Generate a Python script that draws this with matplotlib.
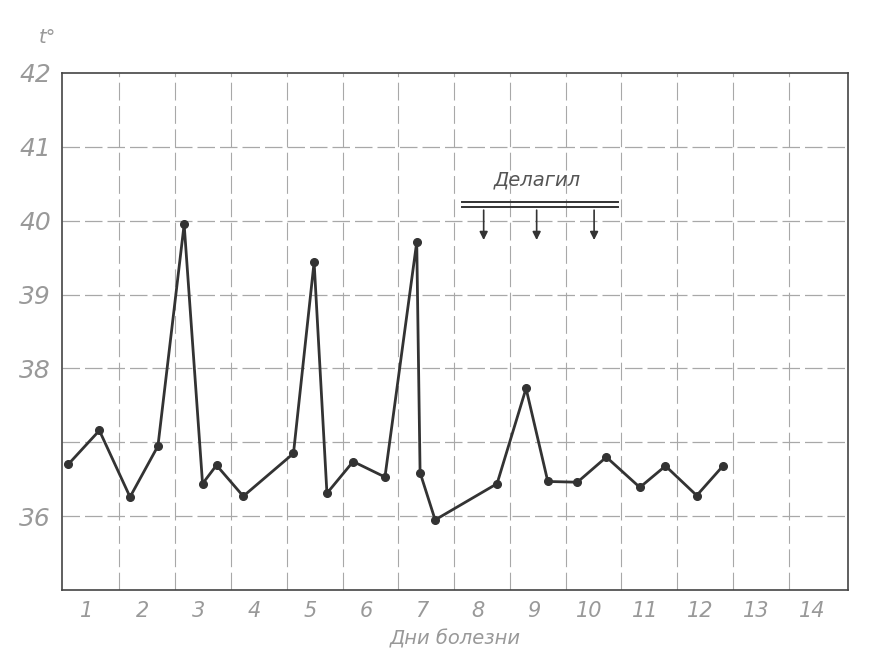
import numpy as np
import matplotlib.pyplot as plt

# measurement times (days of illness) and body temperature
days = [0.66, 1.22, 1.77, 2.27, 2.74, 3.07, 3.32, 3.80, 4.70, 5.07, 5.30, 5.77,
        6.34, 6.91, 6.97, 7.24, 8.35, 8.87, 9.26, 9.79, 10.31, 10.91, 11.37, 11.93, 12.40]
temps = [36.70, 37.16, 36.26, 36.95, 39.95, 36.44, 36.69, 36.27, 36.85, 39.44, 36.31, 36.74,
         36.53, 39.71, 36.59, 35.95, 36.44, 37.73, 36.47, 36.46, 36.80, 36.39, 36.68, 36.28, 36.68]

day_ticks = list(range(1, 15))
temp_ticks = [36, 37, 38, 39, 40, 41, 42]
temp_labels = ['36', '', '38', '39', '40', '41', '42']

# delagil doses
drug_start, drug_end = 7.72, 10.52
drug_doses = [8.11, 9.06, 10.09]

line_c = '#333333'
grid_c = '#a8a8a8'
text_c = '#999999'

fig = plt.figure(figsize=(8.87, 6.63), dpi=100)
ax = fig.add_axes([0.0699, 0.110, 0.886, 0.780])

ax.set_xlim(0.55, 14.64)
ax.set_ylim(35.0, 42.0)

# grid
for t in temp_ticks[:-1]:
    ax.axhline(t, color=grid_c, lw=0.9, ls=(0, (14, 4)), zorder=1)
for d in day_ticks[:-1]:
    ax.axvline(d + 0.58, color=grid_c, lw=0.8, ls=(0, (16, 5)), zorder=1)

ax.plot(days, temps, color=line_c, lw=2.0, marker='o', ms=5.5, zorder=3)

# delagil annotation
ax.plot([drug_start, drug_end], [40.25, 40.25], color=line_c, lw=1.4)
ax.plot([drug_start, drug_end], [40.18, 40.18], color=line_c, lw=1.4)
for d in drug_doses:
    ax.annotate('', xy=(d, 39.70), xytext=(d, 40.18),
                arrowprops=dict(arrowstyle='-|>', color=line_c, lw=1.2, mutation_scale=12))
ax.text(9.08, 40.55, 'Делагил', ha='center', va='center', fontsize=14,
        style='italic', color='#555555')

ax.set_xticks(day_ticks)
ax.set_xticklabels([str(d) for d in day_ticks], fontsize=15, style='italic', color=text_c)
ax.set_yticks(temp_ticks)
ax.set_yticklabels(temp_labels, fontsize=18, style='italic', color=text_c)
ax.tick_params(length=0, pad=8)

ax.set_xlabel('Дни болезни', fontsize=14, style='italic', color=text_c, labelpad=6)
fig.text(0.053, 0.935, 't°', fontsize=14, style='italic', color=text_c, ha='center')

for s in ax.spines.values():
    s.set_color('#444444')
    s.set_linewidth(1.2)

fig.savefig('out.png', dpi=100)
